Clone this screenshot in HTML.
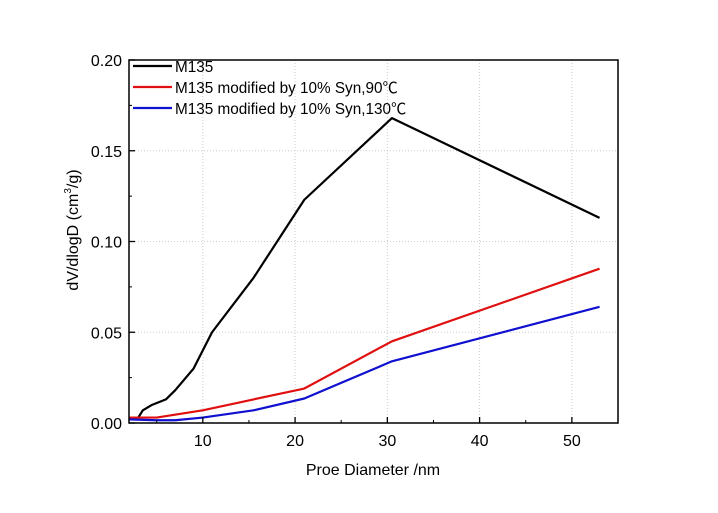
<!DOCTYPE html>
<html><head><meta charset="utf-8"><style>
body{margin:0;background:#fff}
svg{font-family:"Liberation Sans","Noto Sans CJK SC",sans-serif}
</style></head><body>
<svg id="c" width="718" height="508"></svg>
<script>
const xTicks=[10,20,30,40,50];
const yTicks=[0,0.05,0.10,0.15,0.20];
const yTickLabels=["0.00","0.05","0.10","0.15","0.20"];
const seriesNames=["M135","M135 modified by 10% Syn,90℃","M135 modified by 10% Syn,130℃"];
const seriesColors=["#000","#e01010","#1010d0"];
const blackX=[3.0,3.5,4.5,6,7,9,11,15.5,21,30.5,53];
const blackY=[0.003,0.007,0.010,0.013,0.018,0.030,0.050,0.080,0.123,0.168,0.113];
const redX=[2,5,10,15.5,21,30.5,53];
const redY=[0.003,0.003,0.007,0.013,0.019,0.045,0.085];
const blueX=[2,5,7,10,15.5,21,30.5,53];
const blueY=[0.002,0.0015,0.0015,0.003,0.007,0.0135,0.034,0.064];
const L=129,R=618,T=60,B=423;
const xs=v=>L+(v-2)*(R-L)/53;
const ys=v=>B-v*(B-T)/0.2;
const svg=document.getElementById('c');
const NS='http://www.w3.org/2000/svg';
function mk(t,a,p){const e=document.createElementNS(NS,t);for(const k in a)e.setAttribute(k,a[k]);(p||svg).appendChild(e);return e;}
xTicks.forEach(v=>{const g=mk('line',{x1:xs(v),x2:xs(v),y1:T,y2:B,stroke:'#ccc','stroke-dasharray':'1,2'});

});
yTicks.slice(1,4).forEach(v=>{const g=mk('line',{x1:L,x2:R,y1:ys(v),y2:ys(v),stroke:'#ccc','stroke-dasharray':'1,2'});

});
[[blackX,blackY],[redX,redY],[blueX,blueY]].forEach((s,i)=>{
const p=mk('polyline',{points:s[0].map((x,j)=>xs(x)+','+ys(s[1][j])).join(' '),fill:'none',stroke:seriesColors[i],'stroke-width':2.2,'stroke-linejoin':'round'});

});
const f=mk('rect',{x:L,y:T,width:R-L,height:B-T,fill:'none',stroke:'#000','stroke-width':1.5});


xTicks.forEach(v=>{mk('line',{x1:xs(v),x2:xs(v),y1:B,y2:B-6,stroke:'#000','stroke-width':1.3});
mk('line',{x1:xs(v-5),x2:xs(v-5),y1:B,y2:B-3,stroke:'#000'});
const t=mk('text',{x:xs(v),y:B+23,'text-anchor':'middle','font-size':16});t.textContent=v;

});
yTicks.forEach((v,i)=>{mk('line',{x1:L,x2:L+6,y1:ys(v),y2:ys(v),stroke:'#000','stroke-width':1.3});
if(i<4)mk('line',{x1:L,x2:L+3,y1:ys(v+0.025),y2:ys(v+0.025),stroke:'#000'});
const t=mk('text',{x:L-7,y:ys(v)+6,'text-anchor':'end','font-size':16});t.textContent=yTickLabels[i];

});
seriesNames.forEach((n,i)=>{const y=66+i*21;
mk('line',{x1:133,x2:172,y1:y,y2:y,stroke:seriesColors[i],'stroke-width':2.2});
const t=mk('text',{x:175,y:y+6,'font-size':15.3});t.textContent=n;

});
</script>
<svg style="position:absolute;left:0;top:0" width="718" height="508">
<text x="373" y="475" text-anchor="middle" font-size="16" font-family="Liberation Sans, sans-serif">Proe Diameter /nm</text>
<text transform="translate(78,230) rotate(-90)" text-anchor="middle" font-size="16" font-family="Liberation Sans, sans-serif">dV/dlogD (cm<tspan font-size="10" dy="-7">3</tspan><tspan dy="7">/g)</tspan></text>
</svg>
</body></html>
